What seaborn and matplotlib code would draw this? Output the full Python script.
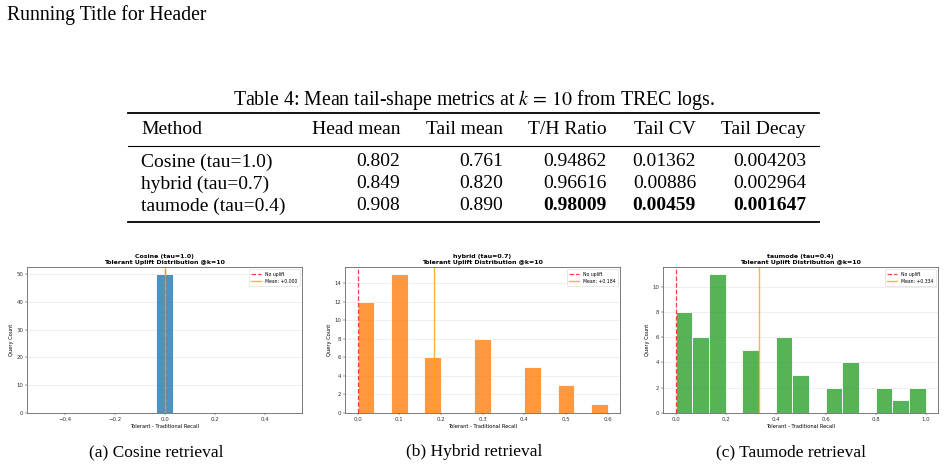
import numpy as np
import pandas as pd
import matplotlib
matplotlib.use('Agg')
import matplotlib.pyplot as plt
import seaborn as sns
from matplotlib.lines import Line2D

# ---- table data ----
methods = ['Cosine (tau=1.0)', 'hybrid (tau=0.7)', 'taumode (tau=0.4)']
col_names = ['Method', 'Head mean', 'Tail mean', 'T/H Ratio', 'Tail CV', 'Tail Decay']
head_mean = ['0.802', '0.849', '0.908']
tail_mean = ['0.761', '0.820', '0.890']
th_ratio = ['0.94862', '0.96616', '0.98009']
tail_cv = ['0.01362', '0.00886', '0.00459']
tail_decay = ['0.004203', '0.002964', '0.001647']

# ---- histogram data (15 bins each) ----
panel_titles = ['Cosine (tau=1.0)', 'hybrid (tau=0.7)', 'taumode (tau=0.4)']
bin_ranges = [(-0.5, 0.5), (0.0, 0.6), (0.0, 1.0)]
cosine_counts = [0, 0, 0, 0, 0, 0, 0, 50, 0, 0, 0, 0, 0, 0, 0]
hybrid_counts = [12, 0, 15, 0, 6, 0, 0, 8, 0, 0, 5, 0, 3, 0, 1]
taumode_counts = [8, 6, 11, 0, 5, 0, 6, 3, 0, 2, 4, 0, 2, 1, 2]
uplift_means = [0.000, 0.184, 0.334]
bar_colors = ['#1f77b4', '#ff7f0e', '#2ca02c']
x_ticks = [[-0.4, -0.2, 0.0, 0.2, 0.4],
           [0.0, 0.1, 0.2, 0.3, 0.4, 0.5, 0.6],
           [0.0, 0.2, 0.4, 0.6, 0.8, 1.0]]
y_ticks = [[0, 10, 20, 30, 40, 50],
           [0, 2, 4, 6, 8, 10, 12, 14],
           [0, 2, 4, 6, 8, 10]]
captions = ['(a) Cosine retrieval', '(b) Hybrid retrieval', '(c) Taumode retrieval']

plt.rcParams['mathtext.fontset'] = 'stix'
W, H = 946, 468
fig = plt.figure(figsize=(W / 100, H / 100), dpi=100)
fig.patch.set_facecolor('white')

def fx(x):
    return x / W

def fy(y):
    return 1 - y / H

serif = ['Liberation Serif', 'DejaVu Serif']

# header
fig.text(fx(7), fy(15), 'Running Title for Header', family=serif, fontsize=14.2, va='center', ha='left')

# table
fig.text(fx(474), fy(100), 'Table 4: Mean tail-shape metrics at $k\\,=\\,10$ from TREC logs.',
         family=serif, fontsize=14.3, va='center', ha='center')
for y, lw in [(113, 1.3), (146, 0.8), (222, 1.3)]:
    fig.add_artist(Line2D([fx(128), fx(819)], [fy(y), fy(y)], transform=fig.transFigure,
                          color='black', lw=lw))
col_right = [400, 503, 607, 696, 806]
fig.text(fx(141), fy(129), col_names[0], family=serif, fontsize=14, va='center', ha='left')
for xr, name in zip(col_right, col_names[1:]):
    fig.text(fx(xr), fy(129), name, family=serif, fontsize=14, va='center', ha='right')
row_y = [162, 184, 206]
for i, m in enumerate(methods):
    fig.text(fx(141), fy(row_y[i]), m, family=serif, fontsize=14, va='center', ha='left')
    vals = [head_mean[i], tail_mean[i], th_ratio[i], tail_cv[i], tail_decay[i]]
    for j, (xr, v) in enumerate(zip(col_right, vals)):
        bold = (i == 2 and j >= 2)
        fig.text(fx(xr), fy(row_y[i]), v, family=serif, fontsize=14, va='center', ha='right',
                 fontweight='bold' if bold else 'normal')

# histogram panels
ax_left = [27, 345, 663]
all_counts = [cosine_counts, hybrid_counts, taumode_counts]
for k in range(3):
    ax = fig.add_axes([fx(ax_left[k]), fy(413), 275 / W, 146 / H])
    lo, hi = bin_ranges[k]
    nb = len(all_counts[k])
    step = (hi - lo) / nb
    df = pd.DataFrame({'uplift': [lo + step * (i + 0.5) for i in range(nb)],
                       'count': all_counts[k]})
    sns.histplot(data=df, x='uplift', weights='count', bins=nb, binrange=(lo, hi),
                 color=bar_colors[k], alpha=0.8, edgecolor='white', linewidth=0.6, ax=ax)
    ax.axvline(0, color='red', linestyle='--', lw=0.9, alpha=0.75, label='No uplift')
    ax.axvline(uplift_means[k], color='orange', lw=1.0, alpha=0.8,
               label=f'Mean: {uplift_means[k]:+.3f}')
    ax.set_title(f'{panel_titles[k]}\nTolerant Uplift Distribution @k=10',
                 fontsize=4.5, fontweight='bold', pad=2.5, linespacing=1.2)
    ax.set_xlabel('Tolerant - Traditional Recall', fontsize=3.7, labelpad=1.5)
    ax.set_ylabel('Query Count', fontsize=3.7, labelpad=2)
    ax.set_xticks(x_ticks[k])
    ax.set_yticks(y_ticks[k])
    ax.tick_params(labelsize=3.9, length=1.3, width=0.35, pad=1.3, colors='#333333')
    ax.grid(axis='y', alpha=0.3, lw=0.5)
    ax.set_axisbelow(True)
    for s in ax.spines.values():
        s.set_linewidth(0.6)
        s.set_color('#666666')
    leg = ax.legend(loc='upper right', fontsize=3.3, frameon=True, handlelength=2.2,
                    borderpad=0.5, labelspacing=0.5)
    leg.get_frame().set_linewidth(0.4)

cap_x = [156, 474, 791]
for cx, cap in zip(cap_x, captions):
    fig.text(fx(cx), fy(452), cap, family=serif, fontsize=12.5, va='center', ha='center')

fig.savefig('out.png', dpi=100)
